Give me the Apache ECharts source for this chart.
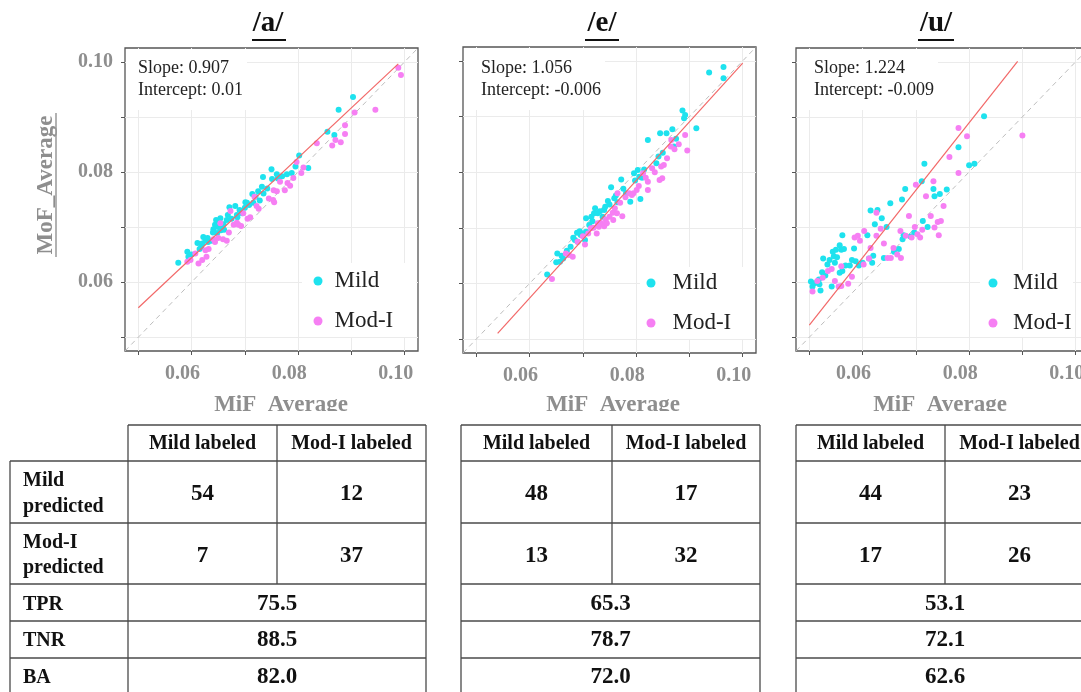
<!DOCTYPE html>
<html><head><meta charset="utf-8">
<script src="https://cdn.jsdelivr.net/npm/echarts@6/dist/echarts.min.js"></script>
<style>html,body{margin:0;padding:0;background:#fff}#c{width:1081px;height:692px}</style>
</head><body><div id="c"></div>
<script>
// ---------- data ----------
const panelNames = ['/a/', '/e/', '/u/'];
const slopes = [0.907, 1.056, 1.224];
const intercepts = [0.01, -0.006, -0.009];
const slopeTexts = ['Slope: 0.907', 'Slope: 1.056', 'Slope: 1.224'];
const interceptTexts = ['Intercept: 0.01', 'Intercept: -0.006', 'Intercept: -0.009'];
const fitRanges = [[0.05, 0.0988], [0.054, 0.100], [0.05, 0.0891]];
const axisRange = [0.0475, 0.1025];
const xTickVals = [0.05, 0.06, 0.07, 0.08, 0.09, 0.10];
const xLabelVals = [0.06, 0.08, 0.10];
const gridVals = [0.05, 0.055, 0.06, 0.065, 0.07, 0.075, 0.08, 0.085, 0.09, 0.095, 0.10];

const mildA = [[0.0575,0.0635],[0.0592,0.0655],[0.0594,0.0646],[0.0611,0.0671],[0.0618,0.0664],[0.0622,0.0682],[0.0626,0.0676],[0.0631,0.0673],[0.0641,0.0696],[0.0644,0.0704],[0.0646,0.0713],[0.0648,0.0689],[0.0654,0.0716],[0.0657,0.0698],[0.0661,0.0695],[0.0666,0.0713],[0.0671,0.0736],[0.0682,0.0738],[0.0686,0.0718],[0.0690,0.0731],[0.0701,0.0745],[0.0704,0.0744],[0.0714,0.0760],[0.0720,0.0755],[0.0716,0.0744],[0.0732,0.0773],[0.0734,0.0791],[0.0735,0.0761],[0.0750,0.0805],[0.0751,0.0787],[0.0760,0.0796],[0.0779,0.0796],[0.0788,0.0798],[0.0802,0.0830],[0.0819,0.0807],[0.0855,0.0873],[0.0868,0.0867],[0.0876,0.0913],[0.0903,0.0936],
 [0.0600,0.0650],[0.0615,0.0660],[0.0630,0.0680],[0.0637,0.0675],[0.0650,0.0700],[0.0652,0.0711],[0.0660,0.0705],[0.0668,0.0722],[0.0675,0.0715],[0.0695,0.0725],[0.0708,0.0740],[0.0725,0.0765],[0.0742,0.0770],[0.0762,0.0788],[0.0640,0.0690],[0.0655,0.0694],[0.0685,0.0722],[0.0700,0.0735],[0.0620,0.0670],[0.0728,0.0748],[0.0770,0.0792],[0.0795,0.0810]];
const modA = [[0.0592,0.0637],[0.0607,0.0652],[0.0613,0.0634],[0.0620,0.0640],[0.0628,0.0646],[0.0626,0.0658],[0.0641,0.0678],[0.0644,0.0673],[0.0654,0.0707],[0.0659,0.0678],[0.0666,0.0675],[0.0673,0.0729],[0.0679,0.0704],[0.0685,0.0708],[0.0688,0.0704],[0.0697,0.0725],[0.0710,0.0718],[0.0718,0.0755],[0.0726,0.0733],[0.0754,0.0767],[0.0753,0.0749],[0.0755,0.0745],[0.0766,0.0782],[0.0775,0.0767],[0.0780,0.0780],[0.0791,0.0789],[0.0797,0.0818],[0.0806,0.0798],[0.0835,0.0852],[0.0864,0.0848],[0.0880,0.0854],[0.0888,0.0869],[0.0888,0.0885],[0.0906,0.0908],[0.0945,0.0913],[0.0988,0.0989],[0.0993,0.0976],
 [0.0598,0.0640],[0.0632,0.0660],[0.0650,0.0680],[0.0670,0.0690],[0.0693,0.0702],[0.0705,0.0715],[0.0722,0.0738],[0.0745,0.0752],[0.0760,0.0765],[0.0785,0.0775],[0.0810,0.0808],[0.0870,0.0858]];

const mildE = [[0.0633,0.0616],[0.0650,0.0638],[0.0652,0.0654],[0.0657,0.0639],[0.0663,0.0645],[0.0670,0.0659],[0.0677,0.0666],[0.0682,0.0682],[0.0689,0.0691],[0.0690,0.0675],[0.0696,0.0687],[0.0699,0.0690],[0.0704,0.0678],[0.0706,0.0693],[0.0706,0.0717],[0.0718,0.0712],[0.0721,0.0726],[0.0723,0.0735],[0.0728,0.0726],[0.0737,0.0720],[0.0740,0.0732],[0.0742,0.0738],[0.0747,0.0748],[0.0753,0.0773],[0.0759,0.0753],[0.0765,0.0746],[0.0772,0.0787],[0.0781,0.0762],[0.0789,0.0747],[0.0796,0.0798],[0.0803,0.0804],[0.0806,0.0792],[0.0811,0.0790],[0.0808,0.0752],[0.0822,0.0858],[0.0838,0.0816],[0.0842,0.0828],[0.0845,0.0870],[0.0857,0.0870],[0.0868,0.0877],[0.0871,0.0846],[0.0887,0.0911],[0.0890,0.0897],[0.0892,0.0903],[0.0913,0.0879],[0.0937,0.0979],[0.0964,0.0989],[0.0964,0.0969],
 [0.0660,0.0650],[0.0685,0.0678],[0.0694,0.0694],[0.0712,0.0705],[0.0716,0.0720],[0.0732,0.0730],[0.0750,0.0742],[0.0762,0.0758],[0.0776,0.0770],[0.0798,0.0785],[0.0815,0.0805],[0.0850,0.0835],[0.0875,0.0860]];
const modE = [[0.0642,0.0608],[0.0668,0.0654],[0.0674,0.0651],[0.0681,0.0648],[0.0704,0.0670],[0.0715,0.0699],[0.0726,0.0690],[0.0728,0.0708],[0.0733,0.0709],[0.0737,0.0707],[0.0740,0.0703],[0.0743,0.0715],[0.0756,0.0727],[0.0757,0.0714],[0.0764,0.0726],[0.0765,0.0762],[0.0774,0.0721],[0.0787,0.0762],[0.0792,0.0759],[0.0801,0.0768],[0.0813,0.0798],[0.0822,0.0783],[0.0822,0.0768],[0.0830,0.0807],[0.0844,0.0786],[0.0847,0.0810],[0.0849,0.0789],[0.0852,0.0813],[0.0866,0.0858],[0.0865,0.0846],[0.0872,0.0841],[0.0892,0.0867],[0.0896,0.0839],
 [0.0690,0.0675],[0.0700,0.0685],[0.0710,0.0690],[0.0720,0.0700],[0.0730,0.0702],[0.0745,0.0708],[0.0750,0.0720],[0.0760,0.0735],[0.0770,0.0745],[0.0780,0.0755],[0.0795,0.0762],[0.0805,0.0775],[0.0818,0.0790],[0.0835,0.0800],[0.0858,0.0825],[0.0880,0.0850]];

const mildU = [[0.0503,0.0601],[0.0506,0.0592],[0.0518,0.0605],[0.0519,0.0596],[0.0521,0.0585],[0.0524,0.0618],[0.0526,0.0643],[0.0534,0.0632],[0.0542,0.0592],[0.0544,0.0655],[0.0546,0.0647],[0.0548,0.0635],[0.0550,0.0659],[0.0557,0.0667],[0.0557,0.0617],[0.0560,0.0659],[0.0562,0.0620],[0.0562,0.0685],[0.0568,0.0630],[0.0576,0.0630],[0.0584,0.0661],[0.0587,0.0638],[0.0593,0.0630],[0.0609,0.0685],[0.0612,0.0643],[0.0615,0.0730],[0.0618,0.0635],[0.0623,0.0705],[0.0628,0.0731],[0.0636,0.0716],[0.0640,0.0644],[0.0652,0.0743],[0.0659,0.0655],[0.0674,0.0750],[0.0675,0.0678],[0.0677,0.0685],[0.0680,0.0769],[0.0697,0.0690],[0.0711,0.0783],[0.0716,0.0815],[0.0713,0.0711],[0.0733,0.0769],[0.0735,0.0756],[0.0758,0.0768],[0.0780,0.0845],[0.0800,0.0812],[0.0810,0.0815],[0.0828,0.0901],
 [0.0510,0.0598],[0.0530,0.0612],[0.0538,0.0640],[0.0552,0.0645],[0.0565,0.0660],[0.0580,0.0640],[0.0600,0.0635],[0.0620,0.0648],[0.0645,0.0700],[0.0668,0.0660],[0.0690,0.0683],[0.0722,0.0700],[0.0745,0.0760]];
const modU = [[0.0506,0.0583],[0.0515,0.0602],[0.0535,0.0620],[0.0542,0.0624],[0.0548,0.0602],[0.0555,0.0592],[0.0560,0.0593],[0.0560,0.0629],[0.0573,0.0597],[0.0585,0.0681],[0.0591,0.0684],[0.0595,0.0675],[0.0603,0.0693],[0.0602,0.0632],[0.0612,0.0643],[0.0615,0.0662],[0.0626,0.0726],[0.0626,0.0684],[0.0634,0.0697],[0.0647,0.0644],[0.0653,0.0644],[0.0658,0.0662],[0.0671,0.0693],[0.0672,0.0644],[0.0681,0.0684],[0.0687,0.0720],[0.0692,0.0681],[0.0698,0.0700],[0.0700,0.0777],[0.0703,0.0687],[0.0708,0.0681],[0.0719,0.0756],[0.0733,0.0783],[0.0735,0.0699],[0.0741,0.0709],[0.0743,0.0685],[0.0747,0.0711],[0.0752,0.0738],[0.0763,0.0827],[0.0780,0.0880],[0.0780,0.0798],[0.0796,0.0865],[0.0900,0.0866],
 [0.0525,0.0608],[0.0580,0.0610],[0.0640,0.0670],[0.0665,0.0650],[0.0712,0.0695],[0.0728,0.0720]];

const mildSets = [mildA, mildE, mildU];
const modSets = [modA, modE, modU];

const tableHeader = ['Mild labeled', 'Mod-I labeled'];
const rowLabels = [['Mild', 'predicted'], ['Mod-I', 'predicted'], ['TPR'], ['TNR'], ['BA']];
const confusion = [[[54, 12], [7, 37]], [[48, 17], [13, 32]], [[44, 23], [17, 26]]];
const rates = [['75.5', '88.5', '82.0'], ['65.3', '78.7', '72.0'], ['53.1', '72.1', '62.6']];

// ---------- layout ----------
const SERIF = '"Liberation Serif", "Times New Roman", serif';
const grids = [
  {left: 125, top: 48, width: 293, height: 303},
  {left: 463, top: 47, width: 293, height: 306},
  {left: 796, top: 48, width: 293, height: 303}
];
const legendPos = [{left: 313.5, top: 267.5, pad: 7}, {left: 646.5, top: 269.5, pad: 12}, {left: 988.5, top: 269.5, pad: 10.5}];
const annoX = [138, 481, 814];
const annoBox = [[126, 49, 121, 61], [464, 48, 141, 62], [797, 49, 141, 61]];
const legBox = [[302, 263, 114, 74], [640, 267, 114, 72], [980, 270, 93, 67]];
const titleX = [268, 602, 936];
const titleUL = [[252, 286], [585, 619], [918, 954]];
const xTitleX = [281, 613, 940];
const tableRowY = [425, 461, 523, 584, 621, 658, 696];
const tableCols = [[128, 277, 426], [461, 612, 760], [796, 945, 1094]];
const labelColLeft = 10;
const numY = [494, 556];
const rateY = [604, 640, 677];
const rowLabelY = [[481, 507], [543, 568], [605], [641], [678]];

const MILD_C = '#1ee2ee';
const MOD_C = '#f67ff3';

const xAxes = [], yAxes = [], series = [], legends = [], graphics = [];
for (let i = 0; i < 3; i++) {
  xAxes.push({
    type: 'value', gridIndex: i, min: axisRange[0], max: axisRange[1],
    axisLine: {show: false}, splitLine: {show: false},
    axisTick: {show: true, length: 4, lineStyle: {color: '#555', width: 1}, customValues: xTickVals},
    axisLabel: {show: true, customValues: xLabelVals, formatter: v => v.toFixed(2), margin: 13,
      padding: [0, 18, 0, 0],
      fontFamily: SERIF, fontWeight: 'bold', fontSize: 20, color: '#8e8e8e'}
  });
  yAxes.push({
    type: 'value', gridIndex: i, min: axisRange[0], max: axisRange[1],
    axisLine: {show: false}, splitLine: {show: false},
    axisTick: {show: true, length: 4, lineStyle: {color: '#555', width: 1}, customValues: xTickVals},
    axisLabel: {show: i === 0, customValues: xLabelVals, formatter: v => v.toFixed(2), margin: 12,
      fontFamily: SERIF, fontWeight: 'bold', fontSize: 20, color: '#8e8e8e'}
  });
  series.push({
    type: 'line', name: 'identity', xAxisIndex: i, yAxisIndex: i, z: 0, silent: true,
    data: [[axisRange[0], axisRange[0]], [axisRange[1], axisRange[1]]], symbol: 'none',
    lineStyle: {color: '#bdbdbd', width: 1, type: [5, 4]},
    markLine: {z: 0, silent: true, symbol: ['none', 'none'], animation: false, label: {show: false},
      lineStyle: {color: '#ebebeb', width: 1, type: 'solid'}, emphasis: {disabled: true},
      data: gridVals.map(v => ({xAxis: v})).concat(gridVals.map(v => ({yAxis: v})))}
  });
  series.push({type: 'scatter', name: 'Mild', xAxisIndex: i, yAxisIndex: i, z: 3, data: mildSets[i],
    symbolSize: 6, itemStyle: {color: MILD_C, opacity: 1}});
  series.push({type: 'scatter', name: 'Mod-I', xAxisIndex: i, yAxisIndex: i, z: 3, data: modSets[i],
    symbolSize: 6, itemStyle: {color: MOD_C, opacity: 1}});
  const fr = fitRanges[i];
  series.push({type: 'line', name: 'fit', xAxisIndex: i, yAxisIndex: i, z: 4, silent: true, symbol: 'none',
    data: fr.map(x => [x, slopes[i] * x + intercepts[i]]),
    lineStyle: {color: '#f26868', width: 1.2}});
  legends.push({
    orient: 'vertical', left: legendPos[i].left, top: legendPos[i].top, padding: 0,
    data: ['Mild', 'Mod-I'], icon: 'circle', itemWidth: 9, itemHeight: 9, itemGap: 13,
    selectedMode: false,
    textStyle: {fontFamily: SERIF, fontSize: 23, color: '#222', lineHeight: 27, padding: [0, 0, 0, legendPos[i].pad]}
  });
  // white boxes behind annotation and legend
  [annoBox[i], legBox[i]].forEach(b => graphics.push({type: 'rect', z: 1, silent: true,
    shape: {x: b[0], y: b[1], width: b[2], height: b[3]}, style: {fill: '#fff'}}));
  graphics.push({type: 'text', z: 5, silent: true, style: {text: slopeTexts[i], x: annoX[i], y: 68,
    fontFamily: SERIF, fontSize: 18, fill: '#222', align: 'left', verticalAlign: 'middle'}});
  graphics.push({type: 'text', z: 5, silent: true, style: {text: interceptTexts[i], x: annoX[i], y: 90,
    fontFamily: SERIF, fontSize: 18, fill: '#222', align: 'left', verticalAlign: 'middle'}});
  // panel title
  graphics.push({type: 'text', z: 5, silent: true, style: {text: panelNames[i], x: titleX[i], y: 24,
    fontFamily: SERIF, fontWeight: 'bold', fontSize: 29, fill: '#111', align: 'center', verticalAlign: 'middle'}});
  graphics.push({type: 'line', z: 5, silent: true, shape: {x1: titleUL[i][0], y1: 40, x2: titleUL[i][1], y2: 40},
    style: {stroke: '#111', lineWidth: 2}});
  // x axis title
  graphics.push({type: 'text', z: 5, silent: true, style: {text: 'MiF_Average', x: xTitleX[i], y: 405,
    fontFamily: SERIF, fontWeight: 'bold', fontSize: 23, fill: '#8e8e8e', align: 'center', verticalAlign: 'middle'}});
}
// y axis title (panel a)
graphics.push({type: 'text', z: 5, silent: true, x: 46, y: 185, rotation: Math.PI / 2,
  style: {text: 'MoF_Average', x: 0, y: 0, fontFamily: SERIF, fontWeight: 'bold', fontSize: 23,
    fill: '#8e8e8e', align: 'center', verticalAlign: 'middle'}});
graphics.push({type: 'line', z: 5, silent: true, shape: {x1: 56, y1: 113, x2: 56, y2: 257},
  style: {stroke: '#999', lineWidth: 1.5}});
// cover under x titles (they are cut off in the reference)
graphics.push({type: 'rect', z: 6, silent: true, shape: {x: 0, y: 411, width: 1081, height: 13}, style: {fill: '#fff'}});

// ---------- tables ----------
const LINE = {stroke: '#4a4a4a', lineWidth: 1.3};
function hline(x1, x2, y) { graphics.push({type: 'line', z: 7, silent: true, shape: {x1, y1: y, x2, y2: y}, style: LINE}); }
function vline(x, y1, y2) { graphics.push({type: 'line', z: 7, silent: true, shape: {x1: x, y1, x2: x, y2}, style: LINE}); }
function txt(t, x, y, size, align) {
  graphics.push({type: 'text', z: 7, silent: true, style: {text: t, x, y, fontFamily: SERIF, fontWeight: 'bold',
    fontSize: size, fill: '#111', align: align || 'center', verticalAlign: 'middle'}});
}
const R = tableRowY;
for (let t = 0; t < 3; t++) {
  const [c0, c1, c2] = tableCols[t];
  const left = t === 0 ? labelColLeft : c0;
  hline(c0, c2, R[0]);
  for (let r = 1; r < R.length; r++) hline(left, c2, R[r]);
  if (t === 0) vline(labelColLeft, R[1], R[6]);
  vline(c0, R[0], R[6]);
  vline(c1, R[0], R[3]);
  vline(c2, R[0], R[6]);
  txt(tableHeader[0], (c0 + c1) / 2, 444, 20);
  txt(tableHeader[1], (c1 + c2) / 2, 444, 20);
  for (let r = 0; r < 2; r++) {
    txt(String(confusion[t][r][0]), (c0 + c1) / 2, numY[r], 23);
    txt(String(confusion[t][r][1]), (c1 + c2) / 2, numY[r], 23);
  }
  for (let k = 0; k < 3; k++) txt(rates[t][k], (c0 + c2) / 2, rateY[k], 23);
}
rowLabels.forEach((lines, r) => lines.forEach((s, j) => txt(s, 23, rowLabelY[r][j], 20, 'left')));

const chart = echarts.init(document.getElementById('c'), null, {renderer: 'canvas'});
chart.setOption({
  animation: false,
  backgroundColor: '#fff',
  grid: grids.map(g => Object.assign({show: true, backgroundColor: '#fff', borderColor: '#555', borderWidth: 1.3,
    containLabel: false, outerBoundsMode: 'none'}, g)),
  xAxis: xAxes,
  yAxis: yAxes,
  legend: legends,
  series: series,
  graphic: {elements: graphics}
});
</script></body></html>
